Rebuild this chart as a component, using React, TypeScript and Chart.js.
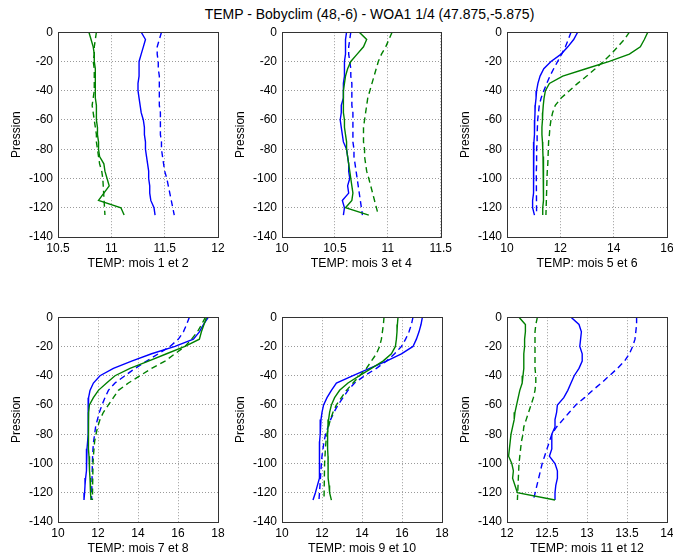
import React, { useEffect, useRef } from "react";
import { Chart, registerables } from "chart.js";
Chart.register(...registerables);

const TITLE = "TEMP - Bobyclim (48,-6) - WOA1 1/4 (47.875,-5.875)";
const Y_LABEL = "Pression";

const DEPTH_SOLID = [0, -5, -10, -15, -20, -25, -30, -35, -40, -45, -50, -55, -60, -65, -70, -75, -80, -85, -90, -95, -100, -105, -110, -115, -120, -125];
const DEPTH_DASHED = [0, -5, -10, -15, -20, -25, -30, -35, -40, -45, -50, -55, -60, -65, -70, -75, -80, -85, -90, -95, -100, -125];

const M12_GREEN_SOLID = [10.79, 10.81, 10.83, 10.84, 10.84, 10.85, 10.85, 10.85, 10.85, 10.85, 10.86, 10.86, 10.86, 10.87, 10.87, 10.88, 10.88, 10.89, 10.93, 10.94, 10.96, 10.98, 10.93, 10.88, 11.09, 11.12];
const M12_GREEN_DASHED = [10.86, 10.85, 10.84, 10.84, 10.83, 10.84, 10.84, 10.84, 10.84, 10.83, 10.82, 10.83, 10.84, 10.85, 10.86, 10.86, 10.87, 10.88, 10.89, 10.91, 10.92, 10.94];
const M12_BLUE_SOLID = [11.28, 11.32, 11.30, 11.28, 11.26, 11.26, 11.26, 11.25, 11.25, 11.26, 11.27, 11.28, 11.30, 11.31, 11.31, 11.32, 11.32, 11.33, 11.34, 11.35, 11.35, 11.36, 11.36, 11.37, 11.40, 11.41];
const M12_BLUE_DASHED = [11.47, 11.45, 11.43, 11.43, 11.44, 11.44, 11.45, 11.45, 11.45, 11.45, 11.45, 11.46, 11.46, 11.46, 11.46, 11.47, 11.47, 11.48, 11.49, 11.50, 11.52, 11.59];

const M34_GREEN_SOLID = [10.73, 10.80, 10.77, 10.71, 10.65, 10.62, 10.60, 10.59, 10.58, 10.58, 10.58, 10.58, 10.59, 10.59, 10.60, 10.61, 10.61, 10.62, 10.63, 10.64, 10.65, 10.66, 10.67, 10.66, 10.60, 10.82];
const M34_GREEN_DASHED = [11.04, 11.01, 10.98, 10.94, 10.91, 10.89, 10.87, 10.85, 10.83, 10.81, 10.80, 10.79, 10.78, 10.77, 10.77, 10.77, 10.78, 10.78, 10.79, 10.80, 10.82, 10.91];
const M34_BLUE_SOLID = [10.61, 10.60, 10.60, 10.60, 10.59, 10.59, 10.59, 10.58, 10.58, 10.58, 10.56, 10.56, 10.55, 10.56, 10.57, 10.58, 10.61, 10.62, 10.63, 10.63, 10.64, 10.62, 10.63, 10.57, 10.59, 10.58];
const M34_BLUE_DASHED = [10.65, 10.64, 10.63, 10.63, 10.64, 10.65, 10.65, 10.66, 10.66, 10.66, 10.66, 10.67, 10.67, 10.67, 10.67, 10.67, 10.68, 10.68, 10.69, 10.70, 10.71, 10.76];

const M56_GREEN_SOLID = [15.28, 15.15, 15.00, 14.59, 13.84, 12.96, 12.09, 11.59, 11.44, 11.39, 11.36, 11.34, 11.33, 11.31, 11.31, 11.33, 11.34, 11.35, 11.36, 11.38, 11.38, 11.38, 11.36, 11.35, 11.34, 11.34];
const M56_GREEN_DASHED = [14.59, 14.40, 14.15, 13.90, 13.61, 13.31, 12.99, 12.65, 12.34, 12.03, 11.81, 11.71, 11.65, 11.61, 11.59, 11.56, 11.55, 11.54, 11.53, 11.51, 11.50, 11.46];
const M56_BLUE_SOLID = [12.65, 12.50, 12.28, 12.03, 11.65, 11.38, 11.24, 11.16, 11.11, 11.09, 11.06, 11.05, 11.04, 11.03, 11.03, 11.01, 11.01, 11.00, 11.00, 11.00, 10.99, 10.99, 10.98, 10.96, 10.96, 11.03];
const M56_BLUE_DASHED = [12.40, 12.30, 12.19, 12.05, 11.90, 11.75, 11.61, 11.49, 11.38, 11.28, 11.21, 11.18, 11.15, 11.14, 11.13, 11.13, 11.11, 11.11, 11.11, 11.10, 11.10, 11.11];

const M78_GREEN_SOLID = [17.43, 17.30, 17.17, 17.07, 16.35, 15.43, 14.52, 13.60, 12.85, 12.43, 12.02, 11.77, 11.57, 11.53, 11.52, 11.52, 11.52, 11.52, 11.53, 11.55, 11.57, 11.58, 11.60, 11.62, 11.63, 11.65];
const M78_GREEN_DASHED = [17.37, 17.18, 16.97, 16.68, 16.35, 15.85, 15.35, 14.68, 14.10, 13.52, 13.02, 12.77, 12.52, 12.27, 12.10, 11.98, 11.90, 11.83, 11.80, 11.77, 11.75, 11.72];
const M78_BLUE_SOLID = [17.52, 17.27, 17.07, 16.77, 15.85, 14.68, 13.68, 12.77, 12.10, 11.77, 11.60, 11.53, 11.52, 11.52, 11.50, 11.50, 11.50, 11.48, 11.45, 11.42, 11.43, 11.42, 11.38, 11.35, 11.33, 11.30];
const M78_BLUE_DASHED = [16.57, 16.43, 16.27, 16.02, 15.60, 15.02, 14.43, 13.85, 13.35, 12.85, 12.52, 12.35, 12.20, 12.07, 11.97, 11.88, 11.83, 11.78, 11.75, 11.73, 11.72, 11.68];

const M910_GREEN_SOLID = [15.80, 15.77, 15.75, 15.72, 15.67, 15.47, 15.05, 14.47, 13.88, 13.30, 12.88, 12.63, 12.47, 12.38, 12.33, 12.30, 12.28, 12.28, 12.28, 12.30, 12.30, 12.30, 12.32, 12.35, 12.38, 12.47];
const M910_GREEN_DASHED = [15.10, 15.07, 15.02, 14.97, 14.88, 14.72, 14.47, 14.22, 13.88, 13.55, 13.22, 12.97, 12.72, 12.55, 12.42, 12.32, 12.25, 12.20, 12.17, 12.15, 12.13, 12.10];
const M910_BLUE_SOLID = [17.02, 16.95, 16.85, 16.72, 16.55, 15.97, 15.22, 14.38, 13.55, 12.72, 12.47, 12.25, 12.08, 12.00, 11.95, 11.92, 11.90, 11.88, 11.88, 11.88, 11.88, 11.87, 11.85, 11.77, 11.67, 11.55];
const M910_BLUE_DASHED = [16.55, 16.47, 16.35, 16.18, 15.97, 15.63, 15.22, 14.72, 14.13, 13.63, 13.30, 13.05, 12.80, 12.60, 12.43, 12.30, 12.18, 12.10, 12.05, 12.00, 11.97, 11.85];

const M1112_GREEN_SOLID = [12.15, 12.23, 12.23, 12.22, 12.22, 12.21, 12.21, 12.21, 12.20, 12.19, 12.16, 12.14, 12.12, 12.10, 12.09, 12.07, 12.05, 12.04, 12.03, 12.02, 12.06, 12.08, 12.07, 12.10, 12.13, 12.60];
const M1112_GREEN_DASHED = [12.38, 12.36, 12.35, 12.35, 12.35, 12.35, 12.35, 12.35, 12.36, 12.36, 12.35, 12.33, 12.30, 12.27, 12.24, 12.21, 12.20, 12.18, 12.17, 12.16, 12.15, 12.13];
const M1112_BLUE_SOLID = [12.80, 12.90, 12.93, 12.92, 12.91, 12.94, 12.94, 12.90, 12.84, 12.80, 12.76, 12.71, 12.63, 12.62, 12.60, 12.60, 12.56, 12.56, 12.56, 12.53, 12.60, 12.63, 12.63, 12.61, 12.60, 12.60];
const M1112_BLUE_DASHED = [13.62, 13.62, 13.61, 13.60, 13.57, 13.53, 13.47, 13.38, 13.28, 13.18, 13.07, 12.97, 12.86, 12.78, 12.70, 12.62, 12.56, 12.53, 12.50, 12.47, 12.44, 12.33];

const X_LABELS = ["TEMP: mois 1 et 2", "TEMP: mois 3 et 4", "TEMP: mois 5 et 6", "TEMP: mois 7 et 8", "TEMP: mois 9 et 10", "TEMP: mois 11 et 12"];
const X_MIN = [10.5, 10, 10, 10, 10, 12];
const X_MAX = [12, 11.5, 16, 18, 18, 14];
const X_STEP = [0.5, 0.5, 2, 2, 2, 0.5];
const Y_MIN = -140;
const Y_MAX = 0;
const Y_STEP = 20;

const SERIES = [
  [M12_GREEN_SOLID, M12_GREEN_DASHED, M12_BLUE_SOLID, M12_BLUE_DASHED],
  [M34_GREEN_SOLID, M34_GREEN_DASHED, M34_BLUE_SOLID, M34_BLUE_DASHED],
  [M56_GREEN_SOLID, M56_GREEN_DASHED, M56_BLUE_SOLID, M56_BLUE_DASHED],
  [M78_GREEN_SOLID, M78_GREEN_DASHED, M78_BLUE_SOLID, M78_BLUE_DASHED],
  [M910_GREEN_SOLID, M910_GREEN_DASHED, M910_BLUE_SOLID, M910_BLUE_DASHED],
  [M1112_GREEN_SOLID, M1112_GREEN_DASHED, M1112_BLUE_SOLID, M1112_BLUE_DASHED],
];

const GREEN = "#008000";
const BLUE = "#0000ff";
const FONT = "'Liberation Sans', Arial, Helvetica, sans-serif";

// layout
const PLOT_LEFTS = [58, 282, 507];
const PLOT_TOPS = [32, 317];
const PLOT_W = 160;
const PLOT_H = 205;
const AXIS_W = 58;
const AXIS_H = 40;
const PAD_TOP = 12;
const PAD_RIGHT = 14;

const framePlugin = {
  id: "frame",
  afterDatasetsDraw(chart: any) {
    const { ctx, chartArea } = chart;
    const { left, top, right, bottom } = chartArea;
    ctx.save();
    ctx.setLineDash([]);
    ctx.strokeStyle = "#333333";
    ctx.lineWidth = 1;
    ctx.strokeRect(Math.round(left) + 0.5, Math.round(top) + 0.5, Math.round(right - left), Math.round(bottom - top));
    ctx.restore();
  },
};

function Panel({ idx }: { idx: number }) {
  const ref = useRef<HTMLCanvasElement | null>(null);
  const col = idx % 3;
  const row = Math.floor(idx / 3);
  const cw = AXIS_W + PLOT_W + PAD_RIGHT;
  const ch = PAD_TOP + PLOT_H + AXIS_H;
  const left = PLOT_LEFTS[col] - AXIS_W;
  const top = PLOT_TOPS[row] - PAD_TOP;

  useEffect(() => {
    if (!ref.current) return;
    const [gs, gd, bs, bd] = SERIES[idx];
    const mk = (vals: number[], depths: number[]) => vals.map((v, i) => ({ x: v, y: depths[i] }));
    const ds = (data: any, color: string, dashed: boolean) => ({
      data,
      borderColor: color,
      backgroundColor: color,
      borderWidth: 1.4,
      borderDash: dashed ? [6, 4] : [],
      pointRadius: 0,
      fill: false,
      tension: 0,
      showLine: true,
    });
    const gridCommon = {
      color: "#9a9a9a",
      lineWidth: 1,
      drawTicks: false,
      borderDash: [1, 2],
    };
    const chart = new Chart(ref.current, {
      type: "scatter",
      data: {
        datasets: [
          ds(mk(gs, DEPTH_SOLID), GREEN, false),
          ds(mk(gd, DEPTH_DASHED), GREEN, true),
          ds(mk(bs, DEPTH_SOLID), BLUE, false),
          ds(mk(bd, DEPTH_DASHED), BLUE, true),
        ],
      },
      options: {
        animation: false,
        responsive: false,
        devicePixelRatio: 1,
        layout: { padding: { top: PAD_TOP, right: PAD_RIGHT, left: 0, bottom: 0 } },
        plugins: { legend: { display: false }, tooltip: { enabled: false } },
        scales: {
          x: {
            type: "linear",
            min: X_MIN[idx],
            max: X_MAX[idx],
            grid: gridCommon as any,
            border: { display: false, dash: [1, 2] },
            ticks: {
              stepSize: X_STEP[idx],
              autoSkip: false,
              maxRotation: 0,
              padding: 4,
              color: "#000",
              font: { family: FONT, size: 12 },
              callback: (v: any) => String(v),
            },
            title: {
              display: true,
              text: X_LABELS[idx],
              color: "#000",
              font: { family: FONT, size: 12.3 },
              padding: { top: 0, bottom: 6 },
            },
            afterFit: (s: any) => {
              s.height = AXIS_H;
            },
          },
          y: {
            type: "linear",
            min: Y_MIN,
            max: Y_MAX,
            grid: gridCommon as any,
            border: { display: false, dash: [1, 2] },
            ticks: {
              stepSize: Y_STEP,
              autoSkip: false,
              padding: 5,
              color: "#000",
              font: { family: FONT, size: 12 },
              callback: (v: any) => String(v),
            },
            title: {
              display: true,
              text: Y_LABEL,
              color: "#000",
              font: { family: FONT, size: 12 },
              padding: { top: 9.5, bottom: 0 },
            },
            afterFit: (s: any) => {
              s.width = AXIS_W;
            },
          },
        },
      } as any,
      plugins: [framePlugin],
    });
    return () => chart.destroy();
  }, [idx]);

  return (
    <canvas
      ref={ref}
      width={cw}
      height={ch}
      style={{ position: "absolute", left, top, width: cw, height: ch }}
    />
  );
}

export default function App() {
  return (
    <div style={{ position: "absolute", left: 0, top: 0, width: 673, height: 556, background: "#fff", overflow: "hidden" }}>
      <div
        style={{
          position: "absolute",
          left: 33,
          top: 6,
          width: 673,
          textAlign: "center",
          fontFamily: FONT,
          fontSize: 14,
          lineHeight: "17px",
          color: "#000",
          whiteSpace: "nowrap",
        }}
      >
        {TITLE}
      </div>
      {[0, 1, 2, 3, 4, 5].map((i) => (
        <Panel key={i} idx={i} />
      ))}
    </div>
  );
}
